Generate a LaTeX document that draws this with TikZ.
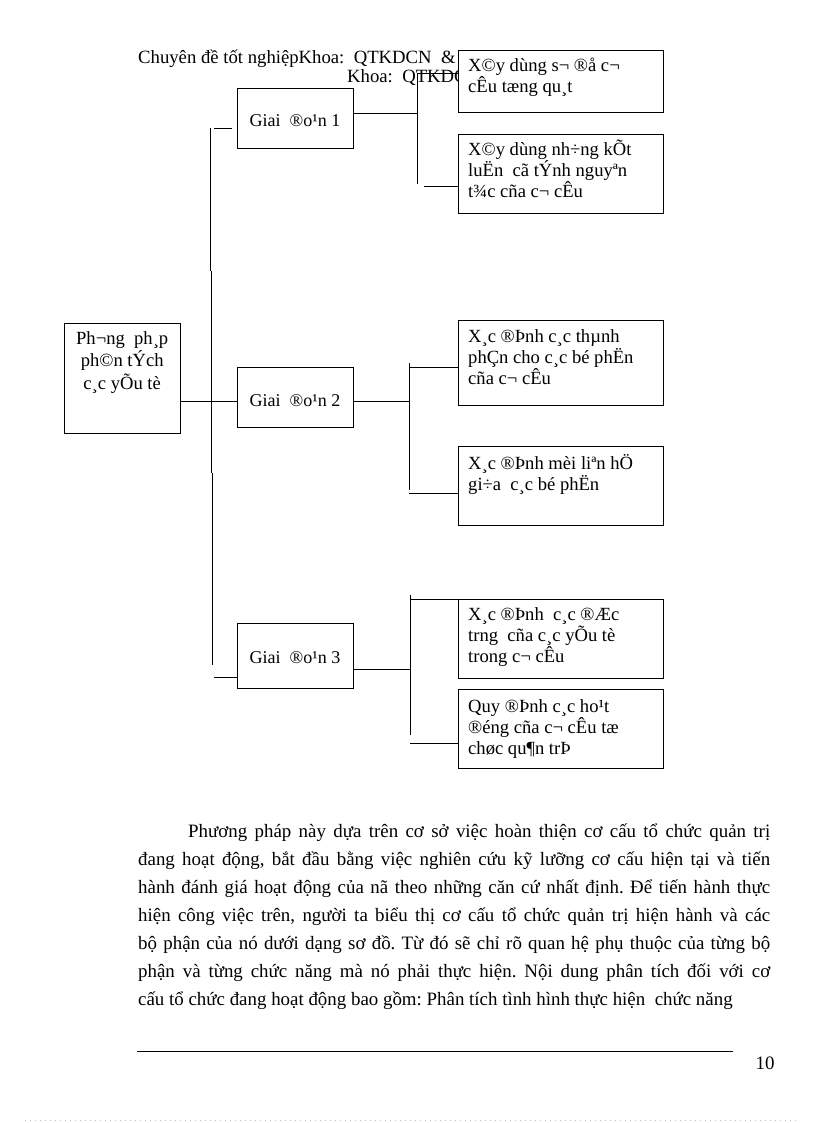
\documentclass[tikz,border=0pt]{standalone}
\usepackage{fontspec}
\setmainfont{Liberation Serif}
\frenchspacing
\newcommand\bxt[1]{\begin{minipage}[t]{195pt}\raggedright\fontsize{18.6}{21}\selectfont #1\end{minipage}}
\newcommand\mxt[1]{\begin{minipage}[t]{110pt}\centering\fontsize{18.6}{22.5}\selectfont #1\end{minipage}}
\begin{document}
\begin{tikzpicture}[x=1pt,y=-1pt,
  bx/.style={draw=black, fill=white, line width=0.9pt, inner sep=0pt, anchor=north west},
  cn/.style={draw=black, line width=0.9pt},
  btxt/.style={inner sep=0pt, anchor=base west},
  gtxt/.style={inner sep=0pt, anchor=base, font=\fontsize{18}{21}\selectfont},
  hdr/.style={inner sep=0pt, anchor=base west, font=\fontsize{18.7}{22}\selectfont},
  body/.style={inner sep=0pt, anchor=base west, font=\fontsize{18.9}{22}\selectfont}]
\useasboundingbox (0,0) rectangle (816,1123);
\fill[white] (0,0) rectangle (816,1123);

% header
\node[hdr] (h1) at (138,64) {Chuyên đề tốt nghiệpKhoa:~~QTKDCN~~\&};
\node[hdr] (h2) at (347,83) {Khoa:~~QTKDC};

% box geometry (used for connector anchors)
\path (64,323) node[bx, minimum width=116pt, minimum height=110pt] (m) {};
\path (237,88) node[bx, draw=none, fill=none, minimum width=116pt, minimum height=60pt] (g1) {};
\path (237,367) node[bx, draw=none, fill=none, minimum width=116pt, minimum height=60pt] (g2) {};
\path (237,623) node[bx, draw=none, fill=none, minimum width=116pt, minimum height=65pt] (g3) {};
\path (458,50) node[bx, draw=none, fill=none, minimum width=205pt, minimum height=62pt] (b1) {};
\path (458,134) node[bx, draw=none, fill=none, minimum width=205pt, minimum height=79pt] (b2) {};
\path (458,320) node[bx, draw=none, fill=none, minimum width=205pt, minimum height=85pt] (b3) {};
\path (458,446) node[bx, draw=none, fill=none, minimum width=205pt, minimum height=79pt] (b4) {};
\path (458,599) node[bx, draw=none, fill=none, minimum width=205pt, minimum height=79pt] (b5) {};
\path (458,689) node[bx, draw=none, fill=none, minimum width=205pt, minimum height=79pt] (b6) {};

% trunk on the left
\coordinate (tA) at (210,128); \coordinate (tB) at (210,271);
\coordinate (tC) at (211,271); \coordinate (tD) at (211,473);
\coordinate (tE) at (212,473); \coordinate (tF) at (212,665);
\draw[cn] (tA) -- (tB) (tC) -- (tD) (tE) -- (tF);
\coordinate (s1) at (214,128); \coordinate (s1e) at (232,128);
\draw[cn] (s1) -- (s1e);
\coordinate (s3) at (214,677);
\draw[cn] (s3) -- (s3 -| g3.west);
\coordinate (jm) at (212,401);
\draw[cn] (jm -| m.east) -- (jm -| g2.west);

% stage 1 connectors
\coordinate (j1) at (417,113);
\draw[cn] (j1 -| g1.east) -- (j1);
\coordinate (v1t) at (417,73); \coordinate (v1b) at (417,184);
\draw[cn] (v1t) -- (v1b);
\draw[cn] (v1t) -- (v1t -| b1.west);
\coordinate (h1b) at (424,186);
\draw[cn] (h1b) -- (h1b -| b2.west);

% stage 2 connectors
\coordinate (j2) at (409,401);
\draw[cn] (j2 -| g2.east) -- (j2);
\coordinate (v2t) at (409,363); \coordinate (v2b) at (409,490);
\draw[cn] (v2t) -- (v2b);
\coordinate (h2a) at (409,367); \draw[cn] (h2a) -- (h2a -| b3.west);
\coordinate (h2b) at (409,493); \draw[cn] (h2b) -- (h2b -| b4.west);

% stage 3 connectors
\coordinate (j3) at (410,669);
\draw[cn] (j3 -| g3.east) -- (j3);
\coordinate (v3t) at (410,595); \coordinate (v3b) at (410,735);
\draw[cn] (v3t) -- (v3b);
\coordinate (h3a) at (410,599); \draw[cn] (h3a) -- (h3a -| b5.west);
\coordinate (h3b) at (410,743); \draw[cn] (h3b) -- (h3b -| b6.west);

% boxes drawn over lines and header
\foreach \n in {g1,g2,g3,b1,b2,b3,b4,b5,b6}
  \draw[black, fill=white, line width=0.9pt] (\n.north west) rectangle (\n.south east);

% box texts
\node[btxt] (mt) at (67,344) {\mxt{Ph¬ng~~ph¸p\\ph©n tÝch\\c¸c yÕu tè}};
\node[gtxt] (g1t) at (295,127) {Giai~~®o¹n 1};
\node[gtxt] (g2t) at (295,406) {Giai~~®o¹n 2};
\node[gtxt] (g3t) at (295,663) {Giai~~®o¹n 3};
\node[btxt] (b1t) at (468,72) {\bxt{X©y dùng s¬ ®å c¬\\cÊu tæng qu¸t}};
\node[btxt] (b2t) at (468,156) {\bxt{X©y dùng nh÷ng kÕt\\luËn~~cã tÝnh nguyªn\\t¾c cña c¬ cÊu}};
\node[btxt] (b3t) at (468,342) {\bxt{X¸c ®Þnh c¸c thµnh\\phÇn cho c¸c bé phËn\\cña c¬ cÊu}};
\node[btxt] (b4t) at (468,469) {\bxt{X¸c ®Þnh mèi liªn hÖ\\gi÷a~~c¸c bé phËn}};
\node[btxt] (b5t) at (468,620) {\bxt{X¸c ®Þnh~~c¸c ®Æc\\trng~~cña c¸c yÕu tè\\trong c¬ cÊu}};
\node[btxt] (b6t) at (468,712) {\bxt{Quy ®Þnh c¸c ho¹t\\®éng cña c¬ cÊu tæ\\chøc qu¶n trÞ}};

% body text
\node[body] (p1) at (188,837) {\makebox[582pt][s]{Phương pháp này dựa trên cơ sở việc hoàn thiện cơ cấu tổ chức quản trị}};
\node[body] (p2) at (138,865) {\makebox[632pt][s]{đang hoạt động, bắt đầu bằng việc nghiên cứu kỹ lưỡng cơ cấu hiện tại và tiến}};
\node[body] (p3) at (138,893) {\makebox[632pt][s]{hành đánh giá hoạt động của nã theo những căn cứ nhất định. Để tiến hành thực}};
\node[body] (p4) at (138,921) {\makebox[632pt][s]{hiện công việc trên, người ta biểu thị cơ cấu tổ chức quản trị hiện hành và các}};
\node[body] (p5) at (138,949) {\makebox[632pt][s]{bộ phận của nó dưới dạng sơ đồ. Từ đó sẽ chỉ rõ quan hệ phụ thuộc của từng bộ}};
\node[body] (p6) at (138,977) {\makebox[632pt][s]{phận và từng chức năng mà nó phải thực hiện. Nội dung phân tích đối với cơ}};
\node[body] (p7) at (138,1005) {cấu tổ chức đang hoạt động bao gồm: Phân tích tình hình thực hiện~~chức năng};

% footer
\coordinate (fl) at (137,1051); \coordinate (fr) at (733,1051);
\draw[black, line width=0.9pt] (fl) -- (fr);
\node[body, anchor=base] (pg) at (765,1069) {10};
\coordinate (dl) at (25,1120); \coordinate (dr) at (796,1120);
\draw[gray!50, line width=0.7pt, dash pattern=on 1pt off 4pt] (dl) -- (dr);
\end{tikzpicture}
\end{document}
